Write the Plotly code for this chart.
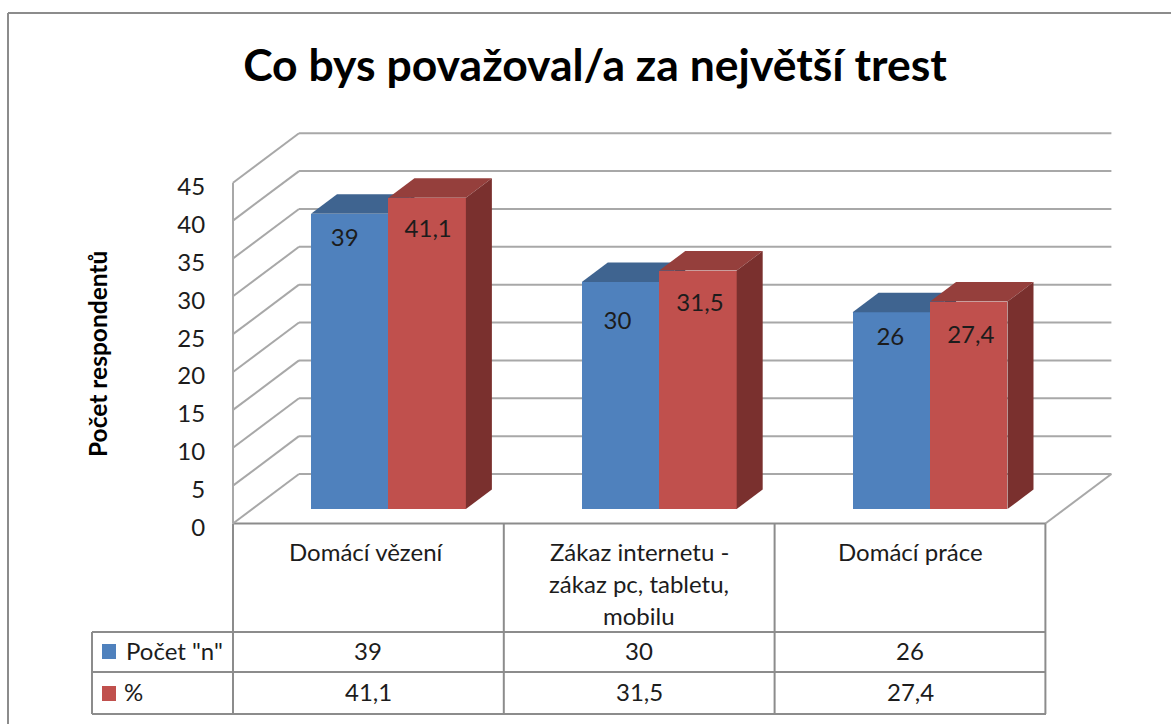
import plotly.graph_objects as go

# ---- data ----
title = "Co bys považoval/a za největší trest"
y_title = "Počet respondentů"
categories = ["Domácí vězení", "Zákaz internetu -<br>zákaz pc, tabletu,<br>mobilu", "Domácí práce"]
series_names = ['Počet "n"', "%"]
count_values = [39, 30, 26]
percent_values = [41.1, 31.5, 27.4]
percent_labels = ["41,1", "31,5", "27,4"]
y_ticks = [0, 5, 10, 15, 20, 25, 30, 35, 40, 45]

# ---- geometry / styles ----
W, H = 1171, 724
PX0, PY0 = 233.0, 523.5          # pixel of (x=0, value=0)
UX, UY = 270.8, 7.573            # pixels per category / per value
WALL_DX, WALL_DY = 66 / UX, 49.5 / UY
BAR_DX, BAR_DY = 26 / UX, 19.5 / UY
BAR_BASE = 1.9
BAR_START, BAR_W = 0.288, 0.286
BLUE, BLUE_TOP = "#4F81BD", "#3F6490"
RED, RED_TOP, RED_SIDE = "#C0504D", "#953F3C", "#7A302E"
GRID, TABLE = "#A8A8A8", "#8C8C8C"
FONT = "Lato"
TXT = "#1c1c1c"
LABEL_SIZE = 24
count_drop = [3.4, 5.4, 3.6]
percent_drop = [4.4, 4.5, 4.7]
count_nudge = [-5, -3, -1]
percent_nudge = [1, 2, 2]

def px(x): return x / W
def py(y): return 1 - y / H

n = len(categories)
fig = go.Figure()

def add_series(values, names, color, top, side, start, axes, drop, nudge, labels):
    xa, ya = axes
    fig.add_trace(go.Bar(x=[i + start + BAR_W / 2 for i in range(n)], y=values, base=BAR_BASE, width=BAR_W,
                         marker=dict(color=color, line=dict(width=0)), xaxis=xa, yaxis=ya, name=names,
                         showlegend=False, hoverinfo="skip", cliponaxis=False))
    for i, v in enumerate(values):
        x0 = i + start
        x1 = x0 + BAR_W
        y1 = BAR_BASE + v
        fig.add_trace(go.Scatter(x=[x0, x1, x1 + BAR_DX, x0 + BAR_DX, x0],
                                 y=[y1, y1, y1 + BAR_DY, y1 + BAR_DY, y1],
                                 fill="toself", fillcolor=top, mode="none", xaxis=xa, yaxis=ya,
                                 showlegend=False, hoverinfo="skip"))
        fig.add_trace(go.Scatter(x=[x1, x1 + BAR_DX, x1 + BAR_DX, x1, x1],
                                 y=[BAR_BASE, BAR_BASE + BAR_DY, y1 + BAR_DY, y1, BAR_BASE],
                                 fill="toself", fillcolor=side, mode="none", xaxis=xa, yaxis=ya,
                                 showlegend=False, hoverinfo="skip"))
    fig.add_trace(go.Scatter(x=[i + start + BAR_W / 2 + k / UX for i, k in zip(range(n), nudge)],
                             y=[BAR_BASE + v - d for v, d in zip(values, drop)],
                             text=labels, mode="text", textposition="middle center",
                             textfont=dict(family=FONT, size=LABEL_SIZE, color=TXT),
                             xaxis="x2", yaxis="y2", showlegend=False, hoverinfo="skip"))

add_series(count_values, series_names[0], BLUE, BLUE_TOP, "#32506F", BAR_START, ("x", "y"),
           count_drop, count_nudge, [str(v) for v in count_values])
add_series(percent_values, series_names[1], RED, RED_TOP, RED_SIDE, BAR_START + BAR_W, ("x2", "y2"),
           percent_drop, percent_nudge, percent_labels)

# ---- back wall / side wall / floor grid ----
shapes = []
def data_line(x0, y0, x1, y1, color=GRID, width=2):
    shapes.append(dict(type="line", xref="x", yref="y", x0=x0, y0=y0, x1=x1, y1=y1,
                       line=dict(color=color, width=width), layer="below"))
def page_line(x0, y0, x1, y1, color=TABLE, width=2):
    shapes.append(dict(type="line", xref="paper", yref="paper", x0=px(x0), y0=py(y0), x1=px(x1), y1=py(y1),
                       line=dict(color=color, width=width), layer="below"))

for v in y_ticks:
    data_line(0, v, WALL_DX, v + WALL_DY)
    data_line(WALL_DX, v + WALL_DY, n + WALL_DX, v + WALL_DY)
data_line(n, 0, n + WALL_DX, WALL_DY)
data_line(0, 0, 0, y_ticks[-1])

# ---- outer frame ----
page_line(8, 13, 1171, 13)
page_line(8, 13, 8, 724)

# ---- data table ----
T_L, T_R = 92, 1046
ROW0, ROW1, ROW2 = 632, 672, 714
page_line(233, 523.5, T_R, 523.5)
page_line(T_L, ROW0, T_R, ROW0)
page_line(T_L, ROW1, T_R, ROW1)
page_line(T_L, ROW2, T_R, ROW2)
page_line(T_L, ROW0, T_L, ROW2)
page_line(233, 523.5, 233, ROW2)
for i in range(1, n + 1):
    xp = PX0 + i * UX
    page_line(xp, 523.5, xp, ROW2)

# legend swatches
for color, (y0, y1) in zip([BLUE, RED], [(644, 659), (686, 701)]):
    shapes.append(dict(type="rect", xref="paper", yref="paper", x0=px(102), x1=px(116), y0=py(y0), y1=py(y1),
                       fillcolor=color, line=dict(width=0), layer="below"))

# ---- texts ----
ann = []
def text(s, x, y, size=LABEL_SIZE, anchor="center", bold=False, angle=0):
    ann.append(dict(text=f"<b>{s}</b>" if bold else s, x=px(x), y=py(y), xref="paper", yref="paper",
                    xanchor=anchor, yanchor="middle", showarrow=False, textangle=angle,
                    font=dict(family=FONT, size=size, color="#000000" if bold else TXT)))

text(y_title, 97, 354, size=24.5, bold=True, angle=-90)
text(series_names[0], 124, 650, anchor="left")
text(series_names[1], 122, 691, anchor="left")
for i, cat in enumerate(categories):
    xc = PX0 + (i + 0.5) * UX
    for j, line in enumerate(cat.split("<br>")):
        text(line, xc - (2 if i == 0 else 0), 551 + j * 32)
    text(str(count_values[i]), xc, 650)
    text(percent_labels[i], xc, 691)

x_range = [-PX0 / UX, (W - PX0) / UX]
y_range = [(PY0 - H) / UY, PY0 / UY]

fig.update_layout(
    width=W, height=H, margin=dict(l=0, r=0, t=0, b=0),
    paper_bgcolor="white", plot_bgcolor="white", showlegend=False, bargap=0,
    title=dict(text=f"<b>{title}</b>", x=595 / W, y=py(65), xanchor="center", yanchor="middle",
               font=dict(family=FONT, size=44.5, color="#000000")),
    xaxis=dict(range=x_range, domain=[0, 1], visible=False, fixedrange=True),
    yaxis=dict(range=y_range, domain=[0, 1], anchor="free", position=PX0 / W, showgrid=False, zeroline=False,
               showline=False, tickmode="array", tickvals=y_ticks, ticks="outside", ticklen=23,
               ticklabelshift=4,
               tickcolor="rgba(0,0,0,0)", tickfont=dict(family=FONT, size=LABEL_SIZE, color=TXT), fixedrange=True),
    xaxis2=dict(range=x_range, domain=[0, 1], overlaying="x", visible=False, fixedrange=True),
    yaxis2=dict(range=y_range, domain=[0, 1], overlaying="y", visible=False, fixedrange=True),
    shapes=shapes, annotations=ann,
)

fig.write_html("out.html", config={"displayModeBar": False},
               post_script="document.body.style.margin='0';")
